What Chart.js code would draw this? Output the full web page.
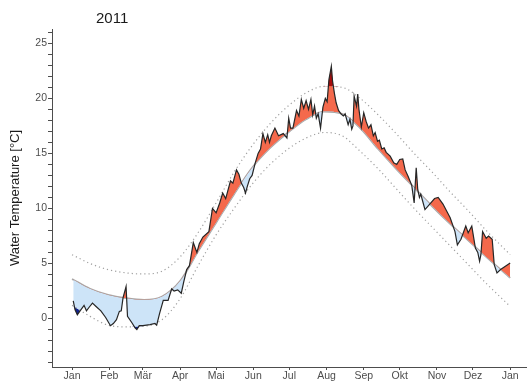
<!DOCTYPE html>
<html>
<head>
<meta charset="utf-8">
<script src="https://cdn.jsdelivr.net/npm/chart.js@4.4.0/dist/chart.umd.min.js"></script>
<style>
  body { margin: 0; background: #fff; }
  #wrap { position: relative; width: 527px; height: 381px; }
  #title { position: absolute; left: 96px; top: 9px; font: 15px "Liberation Sans", Arial, sans-serif; color: #1a1a1a; }
</style>
</head>
<body>
<div id="wrap">
  <canvas id="chart"></canvas>
  <div id="title">2011</div>
</div>
<script>
const monthDays = [0, 31, 59, 90, 120, 151, 181, 212, 243, 273, 304, 334, 365];
const monthLabels = ['Jan', 'Feb', 'Mär', 'Apr', 'Mai', 'Jun', 'Jul', 'Aug', 'Sep', 'Okt', 'Nov', 'Dez', 'Jan'];

// climatology, read every 15 days
const climDays = [0, 15, 30, 45, 60, 75, 90, 105, 120, 135, 150, 165, 180, 195, 210, 225, 240, 255, 270, 285, 300, 315, 330, 345, 365];
const climMean = [3.6, 2.7, 2.15, 1.85, 1.7, 2.0, 3.4, 6.1, 8.7, 11.3, 13.7, 15.5, 16.9, 18.1, 18.8, 18.6, 17.3, 15.4, 13.6, 11.9, 10.2, 8.6, 7.1, 5.6, 3.7];
const climUpper = [5.8, 5.0, 4.45, 4.15, 4.05, 4.3, 5.6, 7.8, 10.5, 13.3, 15.7, 17.7, 19.3, 20.5, 21.1, 21.0, 20.0, 18.5, 16.8, 15.0, 13.3, 11.5, 9.8, 8.0, 5.8];
const climLower = [1.2, 0.2, -0.6, -0.75, -0.7, -0.1, 1.8, 4.8, 7.6, 10.0, 12.2, 14.0, 15.4, 16.4, 16.9, 16.6, 15.2, 13.6, 11.8, 10.0, 8.3, 6.6, 4.9, 3.2, 1.1];

// observed water temperature 2011
const obsDays = [1, 2.5, 4.4, 6.7, 10, 12, 14.4, 17, 20, 24, 28, 32, 34.4, 37, 39.4, 41, 42.5, 45, 46.2, 50,
    52.5, 54, 56, 59, 65, 69, 70.5, 73, 76, 80, 83, 85, 88, 91, 93, 95.5, 97.8, 101, 104, 106,
    109, 114, 117, 120, 123, 125.5, 128, 132, 134, 137, 139, 141, 143, 144.5, 146, 148, 150, 152.5, 155, 157,
    159, 161, 163, 164.5, 166, 169, 172, 176, 179, 180.5, 182, 184, 187, 189, 191, 193, 195, 197, 199, 200.5,
    202, 203.5, 205, 207, 209, 211, 212.5, 214, 216, 217, 218.5, 220, 222, 224, 226, 227.5, 229, 230, 231.5, 233,
    234, 235, 237, 238, 239, 241, 243, 245, 247, 249, 251, 252.5, 254.5, 256, 258, 260, 261.7, 265, 268, 270.5,
    273, 275.5, 277.5, 280, 283, 284, 285, 286.7, 288, 289.4, 290.5, 292, 294, 298, 302, 305, 309, 315, 319, 321,
    324, 328, 330, 333, 336, 338, 339.5, 340.6, 342, 345, 347, 350, 351.7, 354, 357, 365];
const obsTemp = [1.6, 0.8, 0.35, 0.7, 1.2, 0.7, 1.05, 1.4, 1.1, 0.7, 0.1, -0.65, -0.45, -0.1, 0.65, 0.7, 1.9, 2.9, 0.2, -0.4,
    -0.85, -1.0, -0.65, -0.65, -0.55, -0.45, -0.6, 0.5, 1.65, 1.65, 2.7, 2.5, 2.6, 2.3, 3.3, 4.45, 4.8, 6.9, 6.0, 6.8,
    7.4, 7.9, 10.0, 9.6, 10.5, 11.4, 10.9, 12.5, 12.3, 13.5, 13.1, 12.3, 11.9, 11.4, 12.0, 12.7, 13.0, 14.1, 15.0, 15.4,
    16.8, 16.0, 16.7, 16.0, 16.6, 17.3, 16.6, 16.8, 16.4, 18.2, 17.3, 17.3, 18.9, 18.4, 19.9, 19.1, 19.8, 19.0, 19.9, 18.5,
    19.3, 18.2, 18.6, 17.3, 19.2, 20.0, 19.7, 21.7, 22.9, 21.6, 20.5, 19.6, 18.9, 18.6, 18.4, 18.6, 18.0, 17.6, 18.1, 17.2,
    17.5, 20.2, 19.3, 20.4, 19.0, 17.4, 18.7, 17.9, 17.3, 17.6, 16.6, 16.9, 16.1, 16.2, 15.4, 15.5, 15.1, 14.75, 14.15, 14.0,
    14.45, 14.5, 13.5, 12.9, 12.1, 11.3, 10.5, 13.7, 11.7, 11.0, 11.3, 10.7, 9.9, 10.4, 10.9, 11.0, 10.4, 9.15, 7.9, 6.7,
    7.2, 8.4, 7.8, 8.4, 6.4, 6.0, 5.2, 5.8, 7.9, 7.3, 7.5, 7.2, 4.9, 4.15, 4.45, 5.05];

// day windows where the observed line leaves the band
const hotSpells = [[209, 222]];
const coldSpells = [[0, 9], [47, 60]];

function pairs(xs, ys) {
    return xs.map((x, i) => ({x: x, y: ys[i]}));
}

const obs = pairs(obsDays, obsTemp);
const FONT = '"Liberation Sans", Arial, sans-serif';
const NONE = 'rgba(0,0,0,0)';

function spellFill(win, target, above, below) {
    return {
        data: obs.filter(p => p.x >= win[0] && p.x <= win[1]),
        borderWidth: 0, borderColor: NONE, order: 3,
        fill: {target: target, above: above, below: below}
    };
}

let datasets = [
    // 0: observed line on top
    {data: obs, borderColor: '#262626', borderWidth: 1.2, fill: false, order: 0},
    // 1: mean
    {data: pairs(climDays, climMean), borderColor: '#a8a8a8', borderWidth: 1.8,
        cubicInterpolationMode: 'monotone', fill: false, order: 6},
    // 2: upper bound
    {data: pairs(climDays, climUpper), borderColor: '#a0a0a0', borderWidth: 1.2, borderDash: [1.2, 3],
        cubicInterpolationMode: 'monotone', fill: false, order: 1},
    // 3: lower bound
    {data: pairs(climDays, climLower), borderColor: '#a0a0a0', borderWidth: 1.2, borderDash: [1.2, 3],
        cubicInterpolationMode: 'monotone', fill: false, order: 1},
    // 4: fill observed vs mean
    {data: obs, borderWidth: 0, borderColor: NONE, order: 4,
        fill: {target: 1, above: '#f4694c', below: '#cde4f8'}}
];
hotSpells.forEach(w => datasets.push(spellFill(w, 2, '#a80c0c', NONE)));
coldSpells.forEach(w => datasets.push(spellFill(w, 3, NONE, '#12248f')));

let ctx = document.getElementById('chart').getContext('2d');
let chart = new Chart(ctx, {
    type: 'line',
    data: {datasets: datasets},
    options: {
        responsive: true,
        maintainAspectRatio: false,
        animation: false,
        layout: {padding: {top: 29, right: 0, left: 0, bottom: 0}},
        elements: {point: {radius: 0}, line: {tension: 0}},
        plugins: {legend: {display: false}, tooltip: {enabled: false}},
        scales: {
            x: {
                type: 'linear',
                min: -16.7,
                max: 379,
                afterBuildTicks: (scale) => { scale.ticks = monthDays.map(v => ({value: v})); },
                afterFit: (scale) => { scale.height = 14; },
                ticks: {
                    autoSkip: false, maxRotation: 0, padding: 0, color: '#4d4d4d',
                    font: {family: FONT, size: 10.5},
                    callback: (v) => monthLabels[monthDays.indexOf(v)]
                },
                grid: {display: true, drawOnChartArea: false, tickLength: 3, color: '#4d4d4d'},
                border: {display: true, color: '#4d4d4d', width: 1}
            },
            y: {
                min: -4.4,
                max: 26.3,
                afterFit: (scale) => { scale.width = 52; },
                ticks: {
                    stepSize: 1, autoSkip: false, includeBounds: false, padding: 1, color: '#4d4d4d',
                    font: {family: FONT, size: 10.5},
                    callback: (v) => (Math.abs(v % 5) < 1e-6 ? v : '')
                },
                grid: {display: true, drawOnChartArea: false, tickLength: 4, color: '#4d4d4d'},
                border: {display: true, color: '#4d4d4d', width: 1},
                title: {
                    display: true, text: 'Water Temperature [°C]', color: '#1a1a1a',
                    font: {family: FONT, size: 13}, padding: {top: 8, bottom: 0}
                }
            }
        }
    }
});
</script>
</body>
</html>
